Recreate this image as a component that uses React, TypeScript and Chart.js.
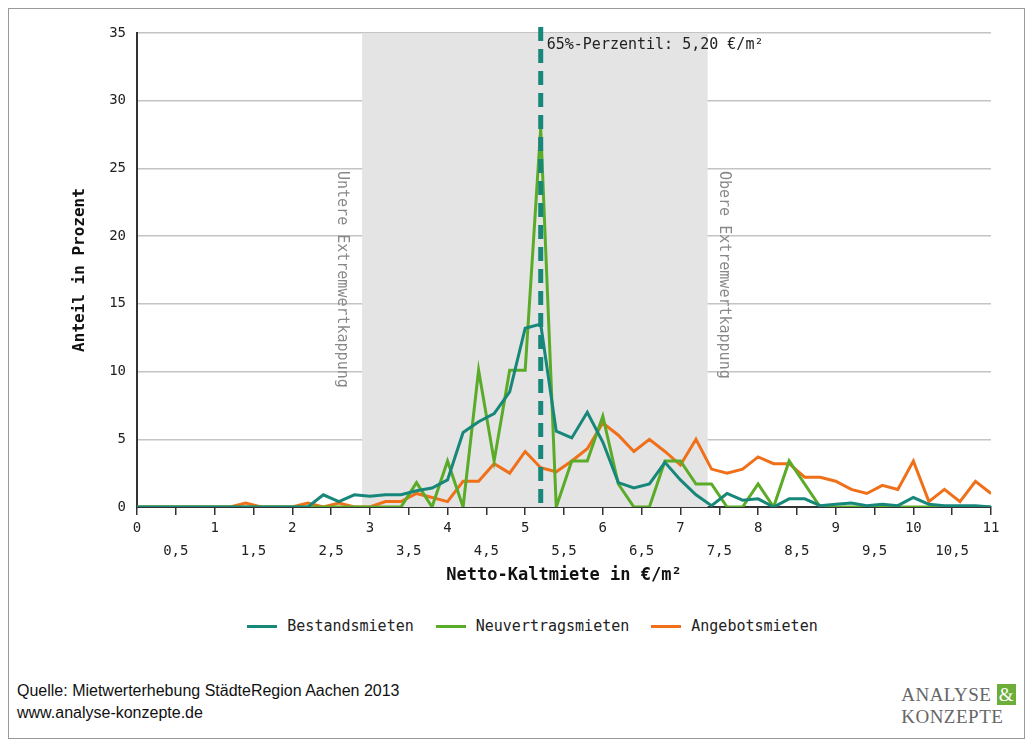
import React, { useEffect, useRef } from "react";
import { Chart, registerables } from "chart.js";
Chart.register(...registerables);

const xValues = [0,0.2,0.4,0.6,0.8,1,1.2,1.4,1.6,1.8,2,2.2,2.4,2.6,2.8,3,3.2,3.4,3.6,3.8,4,4.2,4.4,4.6,4.8,5,5.2,5.4,5.6,5.8,6,6.2,6.4,6.6,6.8,7,7.2,7.4,7.6,7.8,8,8.2,8.4,8.6,8.8,9,9.2,9.4,9.6,9.8,10,10.2,10.4,10.6,10.8,11];
const bestand = [0,0,0,0,0,0,0,0,0,0,0,0,0.9,0.4,0.9,0.8,0.9,0.9,1.2,1.4,2,5.5,6.3,6.9,8.5,13.2,13.5,5.6,5.1,7.0,4.8,1.8,1.4,1.7,3.3,2.0,0.9,0.1,1.0,0.5,0.6,0,0.6,0.6,0.1,0.2,0.3,0.1,0.2,0.1,0.7,0.2,0.1,0.1,0.1,0];
const neu = [0,0,0,0,0,0,0,0,0,0,0,0,0,0,0,0,0,0,1.8,0,3.4,0,10.1,3.4,10.1,10.1,28,0,3.4,3.4,6.7,1.7,0,0,3.4,3.4,1.7,1.7,0,0,1.7,0,3.4,1.7,0,0,0,0,0,0,0,0,0,0,0,0];
const angebot = [0,0,0,0,0,0,0,0.3,0,0,0,0.3,0,0.3,0,0,0.4,0.4,1.0,0.7,0.4,1.9,1.9,3.2,2.5,4.1,2.9,2.6,3.4,4.3,6.2,5.3,4.1,5.0,4.1,3.1,5.0,2.8,2.5,2.8,3.7,3.2,3.2,2.2,2.2,1.9,1.3,1.0,1.6,1.3,3.4,0.4,1.3,0.4,1.9,1.0];
const seriesNames = ["Bestandsmieten", "Neuvertragsmieten", "Angebotsmieten"];
const colors = ["#17877a", "#5aab27", "#f0701a"];
const capLow = 2.9, capHigh = 7.35, perzentil = 5.2;
const xTitle = "Netto-Kaltmiete in €/m²";
const mono = "'DejaVu Sans Mono', monospace";

const overlay = {
  id: "overlay",
  beforeDatasetsDraw(chart: any) {
    const { ctx, chartArea: a, scales: { x } } = chart;
    const l = x.getPixelForValue(capLow), r = x.getPixelForValue(capHigh);
    ctx.save();
    ctx.fillStyle = "#e4e4e4";
    ctx.fillRect(l, a.top, r - l, a.bottom - a.top);
    ctx.fillStyle = "#888";
    ctx.font = "15px " + mono;
    ctx.textBaseline = "middle";
    ctx.textAlign = "left";
    ctx.translate(l - 20, a.top + 138);
    ctx.rotate(Math.PI / 2);
    ctx.fillText("Untere Extremwertkappung", 0, 0);
    ctx.restore();
    ctx.save();
    ctx.fillStyle = "#888";
    ctx.font = "15px " + mono;
    ctx.textBaseline = "middle";
    ctx.translate(r + 16, a.top + 138);
    ctx.rotate(Math.PI / 2);
    ctx.fillText("Obere Extremwertkappung", 0, 0);
    ctx.restore();
  },
  afterDatasetsDraw(chart: any) {
    const { ctx, chartArea: a, scales: { x } } = chart;
    const px = x.getPixelForValue(perzentil);
    ctx.save();
    ctx.strokeStyle = "#17877a";
    ctx.lineWidth = 5;
    ctx.setLineDash([14, 8]);
    ctx.beginPath();
    ctx.moveTo(px, a.top - 6);
    ctx.lineTo(px, a.bottom);
    ctx.stroke();
    ctx.fillStyle = "#222";
    ctx.font = "15px " + mono;
    ctx.textBaseline = "middle";
    ctx.fillText("65%-Perzentil: 5,20 €/m²", px + 6, a.top + 12);
    ctx.fillStyle = "#111";
    ctx.font = "bold 17px " + mono;
    ctx.textAlign = "center";
    ctx.fillText(xTitle, (a.left + a.right) / 2, a.bottom + 69);
    ctx.restore();
  },
};

function ChartView() {
  const ref = useRef<HTMLCanvasElement>(null);
  useEffect(() => {
    const data = [bestand, neu, angebot];
    const chart = new Chart(ref.current!, {
      type: "line",
      data: {
        datasets: data.map((d, i) => ({
          label: seriesNames[i],
          data: d.map((v, j) => ({ x: xValues[j], y: v })),
          borderColor: colors[i],
          borderWidth: 3,
          pointRadius: 0,
          tension: 0,
        })),
      },
      plugins: [overlay],
      options: {
        animation: false,
        responsive: false,
        layout: { padding: { left: 57, top: 24, right: 35, bottom: 0 } },
        plugins: { legend: { display: false }, tooltip: { enabled: false } },
        scales: {
          x: {
            type: "linear",
            min: 0,
            max: 11,
            afterBuildTicks: (s: any) => {
              s.ticks = [];
              for (let v = 0; v <= 22; v++) s.ticks.push({ value: v / 2 });
            },
            afterFit: (s: any) => { s.height = 83; },
            ticks: {
              autoSkip: false,
              maxRotation: 0,
              padding: 1,
              color: "#222",
              font: { family: mono, size: 14, lineHeight: 1.7 },
              callback: (v: any) => {
                const n = Number(v);
                return Number.isInteger(n) ? [String(n), ""] : ["", String(n).replace(".", ",")];
              },
            },
            grid: { display: true, drawOnChartArea: false, tickLength: 8, color: "#333", lineWidth: 1.5 },
            border: { color: "#333", width: 2 },
          },
          y: {
            min: 0,
            max: 35,
            afterFit: (s: any) => { s.width = 71; },
            ticks: { stepSize: 5, color: "#222", font: { family: mono, size: 14 }, padding: 11 },
            grid: { color: "#c4c4c4", lineWidth: 1.5, drawTicks: false },
            border: { color: "#333", width: 2 },
            title: { display: true, text: "Anteil in Prozent", color: "#111", font: { family: mono, size: 16, weight: "bold" } },
          },
        },
      },
    });
    return () => chart.destroy();
  }, []);
  return <canvas ref={ref} width={1017} height={581} style={{ display: "block" }} />;
}

export default function App() {
  return (
    <div style={{ width: 1017, height: 731, border: "1px solid #999", position: "relative", boxSizing: "border-box", background: "#fff" }}>
      <ChartView />
      <div style={{ position: "absolute", top: 608, left: 0, width: 1017, display: "flex", justifyContent: "center", gap: 22, fontFamily: mono, fontSize: 15, color: "#222", paddingLeft: 30, boxSizing: "border-box" }}>
        {seriesNames.map((n, i) => (
          <span key={n} style={{ display: "flex", alignItems: "center" }}>
            <span style={{ display: "inline-block", width: 30, height: 3, background: colors[i], marginRight: 10 }} />
            {n}
          </span>
        ))}
      </div>
      <div style={{ position: "absolute", top: 671, left: 8, fontFamily: "'Liberation Sans', Arial, sans-serif", fontSize: 16, lineHeight: "22px", color: "#111" }}>
        <div>Quelle: Mietwerterhebung StädteRegion Aachen 2013</div>
        <div>www.analyse-konzepte.de</div>
      </div>
      <div style={{ position: "absolute", top: 675, right: 8, fontFamily: "'Liberation Serif', serif", fontSize: 19, lineHeight: "22px", color: "#666", textAlign: "left", letterSpacing: 0.5 }}>
        <div>ANALYSE <span style={{ background: "#6cae3a", color: "#fff", padding: "0 2px" }}>&amp;</span></div>
        <div>KONZEPTE</div>
      </div>
    </div>
  );
}
